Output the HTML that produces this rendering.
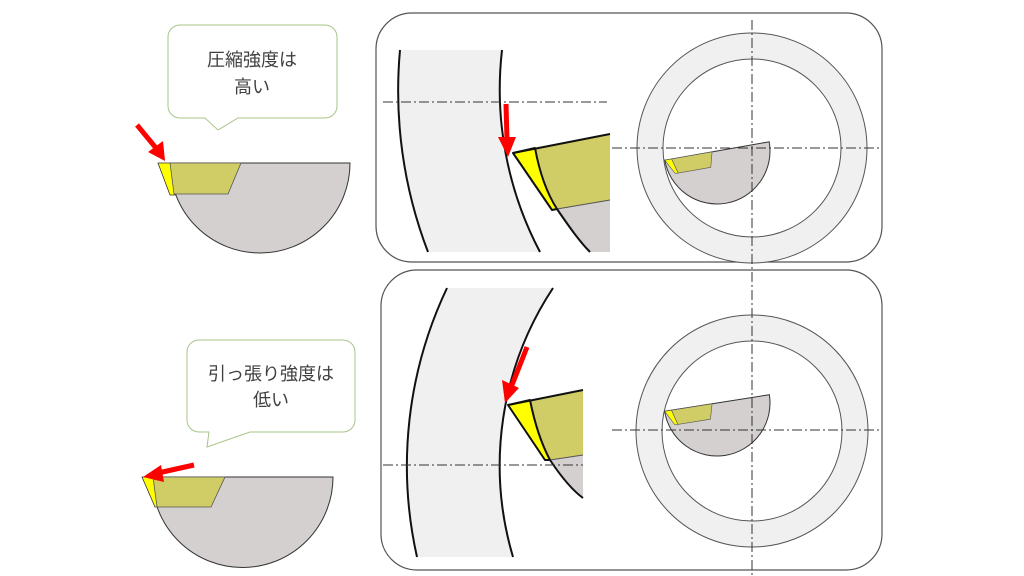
<!DOCTYPE html>
<html><head><meta charset="utf-8"><style>
html,body{margin:0;padding:0;background:#fff;overflow:hidden;width:1024px;height:576px;}
svg{display:block;}
text{font-family:"Liberation Sans","Noto Sans CJK JP",sans-serif;font-size:18px;fill:#404040;}
</style></head><body>
<svg width="1024" height="576" viewBox="0 0 1024 576" xmlns="http://www.w3.org/2000/svg">
<!-- panels -->
<rect x="376" y="13" width="506" height="249" rx="36" fill="none" stroke="#555" stroke-width="1.2"/>
<rect x="381" y="270" width="501" height="300" rx="36" fill="none" stroke="#555" stroke-width="1.2"/>

<!-- left top -->
<path d="M168,37 a12,12 0 0 1 12,-12 h145 a12,12 0 0 1 12,12 v69 a12,12 0 0 1 -12,12 h-87 l-20,12 l-13,-12 h-25 a12,12 0 0 1 -12,-12 z" fill="#fff" stroke="#a9c48a" stroke-width="1"/>
<text x="252" y="66" text-anchor="middle">圧縮強度は</text>
<text x="252" y="93" text-anchor="middle">高い</text>
<path d="M170,163 H350 A90,90 0 0 1 170,163 Z" fill="#d3d0cf" stroke="#333" stroke-width="1"/>
<polygon points="158,163 171,163 175,195 170,195" fill="#ffff00" stroke="#333" stroke-width="0.8"/>
<polygon points="170,163 241,163 228,194 174,194" fill="#d0cc66" stroke="#555" stroke-width="0.8"/>
<line x1="137" y1="125" x2="156" y2="148" stroke="#f00" stroke-width="5"/>
<polygon points="148,152 163,141 165,161" fill="#f00"/>

<!-- left bottom -->
<path d="M187,352 a12,12 0 0 1 12,-12 h144 a12,12 0 0 1 12,12 v68 a12,12 0 0 1 -12,12 h-93 l-43,15 l2,-15 h-10 a12,12 0 0 1 -12,-12 z" fill="#fff" stroke="#a9c48a" stroke-width="1"/>
<text x="271" y="380" text-anchor="middle">引っ張り強度は</text>
<text x="271" y="406" text-anchor="middle">低い</text>
<path d="M152,477 H333 A90.5,90.5 0 0 1 152,477 Z" fill="#d3d0cf" stroke="#333" stroke-width="1"/>
<polygon points="142,477 154,477 158,507 155,507" fill="#ffff00" stroke="#333" stroke-width="0.8"/>
<polygon points="153,477 225,477 211,507 157,507" fill="#d0cc66" stroke="#555" stroke-width="0.8"/>
<line x1="194" y1="465" x2="158" y2="473" stroke="#f00" stroke-width="5"/>
<polygon points="143,477 161,465 164,482" fill="#f00"/>

<!-- top zoom view -->
<path d="M400,50 A450,450 0 0 0 428,252 L540,252 A348,348 0 0 1 502,50 Z" fill="#f0f0f0"/>
<path d="M400,50 A450,450 0 0 0 428,252" fill="none" stroke="#111" stroke-width="2"/>
<path d="M540,252 A348,348 0 0 1 502,50" fill="none" stroke="#111" stroke-width="2"/>
<path d="M557,209 C570,228 580,242 590,252 L610,252 L610,200 Z" fill="#d3d0cf"/>
<path d="M535,148 L610,134 L610,200 L557,209 C548,195 540,175 535,148 Z" fill="#d0cc66"/>
<line x1="557" y1="209" x2="610" y2="200" stroke="#555" stroke-width="1"/>
<path d="M513,153 L535,148 C540,175 548,195 557,209 L552,210 Z" fill="#ffff00" stroke="#111" stroke-width="2" stroke-linejoin="round"/>
<line x1="513" y1="153" x2="610" y2="134" stroke="#111" stroke-width="2"/>
<path d="M557,209 C570,228 580,242 590,252" fill="none" stroke="#111" stroke-width="2"/>
<line x1="383" y1="102" x2="607" y2="102" stroke="#333" stroke-width="1" stroke-dasharray="10,3,2,3"/>
<line x1="506" y1="104" x2="507" y2="140" stroke="#f00" stroke-width="5"/>
<polygon points="498,137 516,137 508,157" fill="#f00"/>

<!-- bottom zoom view -->
<path d="M447,288 A415,415 0 0 0 417,557 L513,557 A322,322 0 0 1 553,288 Z" fill="#f0f0f0"/>
<path d="M447,288 A415,415 0 0 0 417,557" fill="none" stroke="#111" stroke-width="2"/>
<path d="M513,557 A322,322 0 0 1 553,288" fill="none" stroke="#111" stroke-width="2"/>
<path d="M550,460 C562,478 572,490 583,498 L583,455 Z" fill="#d3d0cf"/>
<path d="M530,400 L583,390 L583,455 L550,460 C542,445 535,425 530,400 Z" fill="#d0cc66"/>
<line x1="550" y1="460" x2="583" y2="455" stroke="#555" stroke-width="1"/>
<path d="M508,405 L530,400 C535,425 542,445 550,460 L545,460 Z" fill="#ffff00" stroke="#111" stroke-width="2" stroke-linejoin="round"/>
<line x1="508" y1="405" x2="583" y2="390" stroke="#111" stroke-width="2"/>
<path d="M550,460 C562,478 572,490 583,498" fill="none" stroke="#111" stroke-width="2"/>
<line x1="383" y1="465" x2="583" y2="465" stroke="#333" stroke-width="1" stroke-dasharray="10,3,2,3"/>
<line x1="527" y1="347" x2="512" y2="385" stroke="#f00" stroke-width="5"/>
<polygon points="502,380 519,388 505,403" fill="#f00"/>

<!-- right circles top -->
<circle cx="752" cy="148" r="102" fill="none" stroke="#f0f0f0" stroke-width="26"/>
<circle cx="752" cy="148" r="115" fill="none" stroke="#555" stroke-width="1"/>
<circle cx="752" cy="148" r="89" fill="none" stroke="#555" stroke-width="1"/>
<g transform="rotate(-10 717 151)">
<path d="M664,151 H770 A53,53 0 0 1 664,151 Z" fill="#d3d0cf" stroke="#333" stroke-width="1"/>
<polygon points="664,151 671,151 675,166 672,166" fill="#ffff00" stroke="#555" stroke-width="0.6"/>
<polygon points="671,151 712,151 708,166 675,166" fill="#d0cc66" stroke="#555" stroke-width="0.6"/>
</g>
<!-- right circles bottom -->
<circle cx="752" cy="431" r="103" fill="none" stroke="#f0f0f0" stroke-width="26"/>
<circle cx="752" cy="431" r="116" fill="none" stroke="#555" stroke-width="1"/>
<circle cx="752" cy="431" r="90" fill="none" stroke="#555" stroke-width="1"/>
<g transform="rotate(-9 717 403)">
<path d="M664,403 H770 A53,53 0 0 1 664,403 Z" fill="#d3d0cf" stroke="#333" stroke-width="1"/>
<polygon points="664,403 671,403 675,418 672,418" fill="#ffff00" stroke="#555" stroke-width="0.6"/>
<polygon points="671,403 712,403 708,418 675,418" fill="#d0cc66" stroke="#555" stroke-width="0.6"/>
</g>
<line x1="612" y1="148" x2="882" y2="148" stroke="#333" stroke-width="1" stroke-dasharray="10,3,2,3"/>
<line x1="612" y1="430" x2="882" y2="430" stroke="#333" stroke-width="1" stroke-dasharray="10,3,2,3"/>
<line x1="752" y1="20" x2="752" y2="575" stroke="#333" stroke-width="1" stroke-dasharray="10,3,2,3"/>
</svg>
</body></html>
